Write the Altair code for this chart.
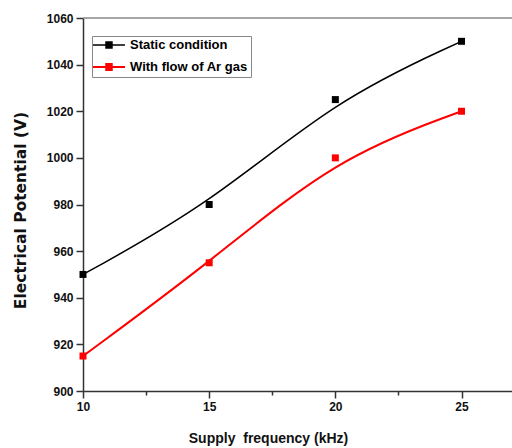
import altair as alt
import pandas as pd

# Measured electrical potential vs. supply frequency
freq_khz = [10, 15, 20, 25]
static_volts = [950, 980, 1025, 1050]
ar_flow_volts = [915, 955, 1000, 1020]

series_names = ["Static condition", "With flow of Ar gas"]
series_colors = ["#000000", "#ff0000"]
series_widths = [1.5, 2.0]

x_tick_values = [10, 12.5, 15, 17.5, 20, 22.5, 25]
y_tick_values = list(range(900, 1061, 10))

rows = []
for name, volts in zip(series_names, [static_volts, ar_flow_volts]):
    for f, v in zip(freq_khz, volts):
        rows.append({"freq": f, "volt": v, "series": name})
df = pd.DataFrame(rows)

W, H = 429, 373
FONT = "Liberation Sans"
AXIS_COLOR = "#333333"

x_scale = alt.Scale(domain=[10, 27], nice=False, zero=False)
y_scale = alt.Scale(domain=[900, 1060], nice=False, zero=False)
color_scale = alt.Scale(domain=series_names, range=series_colors)
width_scale = alt.Scale(domain=series_names, range=series_widths)

x_axis = alt.Axis(
    values=x_tick_values,
    labelExpr="datum.value % 5 === 0 ? datum.label : ''",
    tickSize={"condition": {"test": "datum.value % 5 === 0", "value": 7}, "value": 4},
    labelFlush=False,
    grid=False,
    domainColor=AXIS_COLOR, domainWidth=1.5,
    tickColor=AXIS_COLOR, tickWidth=1.5,
    labelFont=FONT, labelFontSize=12, labelFontWeight="bold", labelColor="#111",
    labelPadding=3,
    title="Supply\u00a0 frequency (kHz)",
    titleFont=FONT, titleFontSize=14, titleFontWeight="bold", titleColor="#111",
    titleX=185, titleY=47, titleAlign="center", titleBaseline="middle",
)

y_axis = alt.Axis(
    values=y_tick_values,
    format="d",
    labelExpr="datum.value % 20 === 0 ? datum.label : ''",
    tickSize={"condition": {"test": "datum.value % 20 === 0", "value": 7}, "value": 4},
    grid=False,
    domainColor=AXIS_COLOR, domainWidth=1.5,
    tickColor=AXIS_COLOR, tickWidth=1.5,
    labelFont=FONT, labelFontSize=12, labelFontWeight="bold", labelColor="#111",
    labelPadding=3,
    title="Electrical Potential (V)",
    titleFont="DejaVu Sans", titleFontSize=15.5, titleFontWeight="bold", titleColor="#111",
    titleX=-63, titleY=192, titleAngle=270, titleAlign="center", titleBaseline="middle",
)

# legend glyph: a line with a small solid square built from stacked strokes
glyph = ("M-2.91,0H2.91"
         "M-0.68,-0.545H0.68M-0.68,-0.27H0.68M-0.68,0.27H0.68M-0.68,0.545H0.68")

legend = alt.Legend(
    title=None, orient="none", legendX=9, legendY=18,
    symbolType=glyph, symbolSize=121, symbolStrokeWidth=1.5, symbolOffset=8,
    labelFont=FONT, labelFontSize=13, labelFontWeight="bold", labelColor="#000",
    labelOffset=14.5, rowPadding=7, padding=2.5,
    strokeColor="#888888", fillColor="white",
)

lines = alt.Chart(df).mark_line(interpolate="basis").encode(
    x=alt.X("freq:Q", scale=x_scale, axis=x_axis),
    y=alt.Y("volt:Q", scale=y_scale, axis=y_axis),
    color=alt.Color("series:N", scale=color_scale, legend=legend),
    strokeWidth=alt.StrokeWidth("series:N", scale=width_scale, legend=None),
)

points = alt.Chart(df).mark_square(size=49, opacity=1).encode(
    x=alt.X("freq:Q", scale=x_scale),
    y=alt.Y("volt:Q", scale=y_scale),
    color=alt.Color("series:N", scale=color_scale, legend=None),
)

frame_top = alt.Chart(alt.Data(values=[{}])).mark_rule(
    color="#888888", strokeWidth=1.5
).encode(x=alt.value(0), x2=alt.value(W), y=alt.value(0))

chart = alt.layer(frame_top, lines, points).properties(
    width=W, height=H,
    autosize=alt.AutoSizeParams(type="none"),
    padding={"left": 83, "top": 18, "right": 0, "bottom": 57},
    background="white",
).configure_view(stroke=None)

chart.save("out.html", embed_options={"renderer": "svg", "actions": False})
